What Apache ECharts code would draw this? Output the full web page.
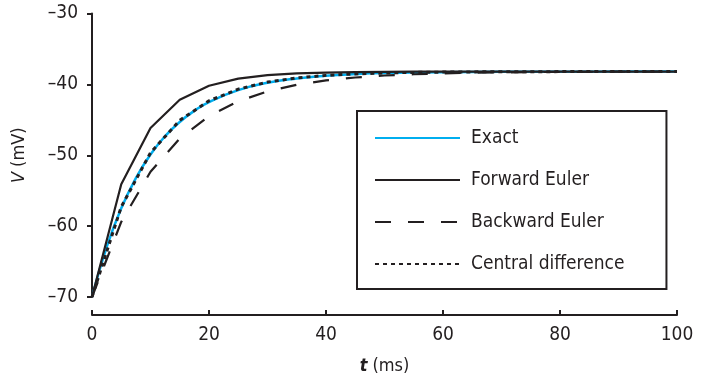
<!DOCTYPE html>
<html>
<head>
<meta charset="utf-8">
<script src="https://cdn.jsdelivr.net/npm/echarts@6/dist/echarts.min.js"></script>
<style>
  html, body { margin: 0; padding: 0; background: #fff; }
  #chart { width: 706px; height: 380px; }
</style>
</head>
<body>
<div id="chart"></div>
<script>
// time axis (ms)
const tExact = [0, 2.5, 5, 7.5, 10, 12.5, 15, 17.5, 20, 25, 30, 35, 40, 45, 50, 60, 70, 80, 90, 100];
const vExact = [-70, -62.97, -57.49, -53.22, -49.9, -47.31, -45.3, -43.73, -42.5, -40.81, -39.78, -39.16,
  -38.78, -38.55, -38.41, -38.28, -38.23, -38.21, -38.2, -38.2];

// numerical solutions, step 5 ms
const tSteps = [0, 5, 10, 15, 20, 25, 30, 35, 40, 45, 50, 55, 60, 65, 70, 75, 80, 85, 90, 95, 100];
const vForward = [-70, -54.1, -46.15, -42.18, -40.19, -39.19, -38.7, -38.45, -38.33, -38.26, -38.23,
  -38.21, -38.2, -38.2, -38.2, -38.2, -38.2, -38.2, -38.2, -38.2, -38.2];
const vBackward = [-70, -59.4, -52.33, -47.62, -44.48, -42.39, -40.99, -40.06, -39.44, -39.03, -38.75,
  -38.57, -38.45, -38.36, -38.31, -38.27, -38.24, -38.22, -38.21, -38.21, -38.2];
const vCentral = [-70, -57.28, -49.65, -45.07, -42.32, -40.67, -39.68, -39.09, -38.73, -38.52, -38.39,
  -38.31, -38.27, -38.24, -38.22, -38.21, -38.2, -38.2, -38.2, -38.2, -38.2];

const seriesNames = ['Exact', 'Forward Euler', 'Backward Euler', 'Central difference'];

const ink = '#231f20';
const font = "'DejaVu Sans Condensed', 'Liberation Sans', sans-serif";

const pairs = (xs, ys) => xs.map((x, i) => [x, ys[i]]);
const dash = (s) => s.replace('-', '\u2013');

const chart = echarts.init(document.getElementById('chart'));

chart.setOption({
  animation: false,
  grid: { left: 92, right: 29, top: 13.5, bottom: 80 },
  legend: {
    orient: 'vertical',
    left: 357,
    top: 111,
    padding: [17, 42, 15, 17],
    borderColor: ink,
    borderWidth: 2,
    itemWidth: 85,
    itemHeight: 14,
    itemGap: 22,
    itemStyle: { opacity: 0 },
    data: seriesNames,
    textStyle: { color: ink, fontSize: 19, lineHeight: 20, fontFamily: font, padding: [0, 0, 0, 6] },
  },
  xAxis: {
    type: 'value',
    min: 0,
    max: 100,
    interval: 20,
    offset: 18,
    name: '{i|t} (ms)',
    nameLocation: 'middle',
    nameGap: 42,
    nameTextStyle: {
      color: ink,
      fontSize: 18,
      fontFamily: font,
      rich: { i: { fontStyle: 'italic', fontWeight: 'bold', fontSize: 18, fontFamily: font, color: ink } },
    },
    axisLine: { lineStyle: { color: ink, width: 2 } },
    axisTick: { inside: true, length: 5, lineStyle: { color: ink, width: 2 } },
    axisLabel: { color: ink, fontSize: 19, fontFamily: font, margin: 11 },
    splitLine: { show: false },
  },
  yAxis: {
    type: 'value',
    min: -70,
    max: -30,
    interval: 10,
    name: '{i|V} (mV)',
    nameLocation: 'middle',
    nameGap: 64,
    nameTextStyle: {
      color: ink,
      fontSize: 18,
      fontFamily: font,
      rich: { i: { fontStyle: 'italic', fontSize: 18, fontFamily: font, color: ink } },
    },
    axisLine: { show: true, lineStyle: { color: ink, width: 2 } },
    axisTick: { show: true, length: 5, lineStyle: { color: ink, width: 2 } },
    axisLabel: { color: ink, fontSize: 19, fontFamily: font, margin: 14, formatter: (v) => dash(String(v)) },
    splitLine: { show: false },
  },
  series: [
    {
      name: seriesNames[0],
      type: 'line',
      data: pairs(tExact, vExact),
      smooth: true,
      symbol: 'none',
      z: 2,
      lineStyle: { color: '#00aeef', width: 2.5 },
      itemStyle: { color: '#00aeef' },
    },
    {
      name: seriesNames[1],
      type: 'line',
      data: pairs(tSteps, vForward),
      symbol: 'none',
      z: 3,
      lineStyle: { color: ink, width: 2.2 },
      itemStyle: { color: ink },
    },
    {
      name: seriesNames[2],
      type: 'line',
      data: pairs(tSteps, vBackward),
      symbol: 'none',
      z: 3,
      lineStyle: { color: ink, width: 2.2, type: [16, 17] },
      itemStyle: { color: ink },
    },
    {
      name: seriesNames[3],
      type: 'line',
      data: pairs(tSteps, vCentral),
      symbol: 'none',
      z: 4,
      lineStyle: { color: ink, width: 3, type: [4, 4] },
      itemStyle: { color: ink },
    },
  ],
});
</script>
</body>
</html>
